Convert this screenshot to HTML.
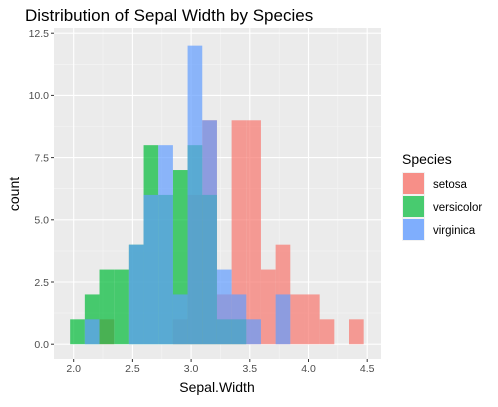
<!DOCTYPE html>
<html><head><meta charset="utf-8"><style>
body{margin:0;background:#fff;font-family:"Liberation Sans",Arial,sans-serif}
svg text{font-family:"Liberation Sans",Arial,sans-serif}
</style></head><body>
<svg id="chart" width="498" height="402" viewBox="0 0 498 402" xmlns="http://www.w3.org/2000/svg">
<text x="25" y="21" font-size="17" fill="#000">Distribution of Sepal Width by Species</text>
<rect x="54" y="28" width="327" height="331" fill="#EBEBEB"/>
<g id="grid"></g>
<g id="bars"></g>
<g id="axes"></g>
<text x="217" y="392" font-size="14" text-anchor="middle">Sepal.Width</text>
<text transform="translate(19,194) rotate(-90)" font-size="14" text-anchor="middle">count</text>
<g>
<text x="402" y="164" font-size="14">Species</text>
<rect x="402" y="172" width="23" height="23" fill="#F2F2F2"/>
<rect x="403" y="173" width="21" height="21" fill="#F8766D" fill-opacity="0.8"/>
<text x="433" y="188" font-size="11.5">setosa</text>
<rect x="402" y="195" width="23" height="23" fill="#F2F2F2"/>
<rect x="403" y="196" width="21" height="21" fill="#00BA38" fill-opacity="0.7"/>
<text x="433" y="211" font-size="11.5">versicolor</text>
<rect x="402" y="218" width="23" height="23" fill="#F2F2F2"/>
<rect x="403" y="219" width="21" height="21" fill="#619CFF" fill-opacity="0.8"/>
<text x="433" y="234" font-size="11.5">virginica</text>
</g>
</svg>
<script>
const binStart = 1.97;
const binWidth = 0.125;
const setosa = [0,0,1,0,0,0,0,1,6,9,2,9,9,3,4,2,2,1,0,1];
const versicolor = [1,2,3,3,4,8,6,7,8,6,1,1,0,0,0,0,0,0,0,0];
const virginica = [0,1,0,0,4,6,8,2,12,9,3,2,1,0,2,0,0,0,0,0];
const xTicks = [2.0,2.5,3.0,3.5,4.0,4.5];
const xTickLabels = ["2.0","2.5","3.0","3.5","4.0","4.5"];
const yTicks = [0,2.5,5,7.5,10,12.5];
const yTickLabels = ["0.0","2.5","5.0","7.5","10.0","12.5"];

const NS="http://www.w3.org/2000/svg";
const px0=54, px1=381, py0=28, py1=359;
function xs(v){return 73.7+(v-2.0)*117.4;}
function ys(v){return 344.2-v*24.88;}
function mk(tag,attrs,parent){const e=document.createElementNS(NS,tag);for(const k in attrs)e.setAttribute(k,attrs[k]);parent.appendChild(e);return e;}
const grid=document.getElementById('grid'),bars=document.getElementById('bars'),axes=document.getElementById('axes');
// minor grid
for(let i=0;i<xTicks.length-1;i++){const x=xs((xTicks[i]+xTicks[i+1])/2);const l=mk('line',{x1:x,x2:x,y1:py0,y2:py1,stroke:'#F5F5F5','stroke-width':0.6},grid);}
for(let i=0;i<yTicks.length-1;i++){const y=ys((yTicks[i]+yTicks[i+1])/2);const l=mk('line',{x1:px0,x2:px1,y1:y,y2:y,stroke:'#F5F5F5','stroke-width':0.6},grid);}
xTicks.forEach((t,i)=>{const x=xs(t);
const l=mk('line',{x1:x,x2:x,y1:py0,y2:py1,stroke:'#fff','stroke-width':1.1},grid);


mk('line',{x1:x,x2:x,y1:py1,y2:py1+3,stroke:'#333','stroke-width':1},axes);
const tx=mk('text',{x:x,y:py1+13,'font-size':'10.5','text-anchor':'middle',fill:'#4D4D4D'},axes);tx.textContent=xTickLabels[i];

});
yTicks.forEach((t,i)=>{const y=ys(t);
const l=mk('line',{x1:px0,x2:px1,y1:y,y2:y,stroke:'#fff','stroke-width':1.1},grid);


mk('line',{x1:px0-3,x2:px0,y1:y,y2:y,stroke:'#333','stroke-width':1},axes);
const tx=mk('text',{x:px0-5,y:y+3.8,'font-size':'10.5','text-anchor':'end',fill:'#4D4D4D'},axes);tx.textContent=yTickLabels[i];

});
const series=[[setosa,'#F8766D','setosa'],[versicolor,'#00BA38','versicolor'],[virginica,'#619CFF','virginica']];
series.forEach(([vals,col,name])=>{vals.forEach((c,i)=>{if(c<=0)return;
const a=binStart+i*binWidth,b=a+binWidth;
const r=mk('rect',{x:xs(a),y:ys(c),width:xs(b)-xs(a),height:ys(0)-ys(c),fill:col,'fill-opacity':0.7},bars);

});});
</script>
</body></html>
